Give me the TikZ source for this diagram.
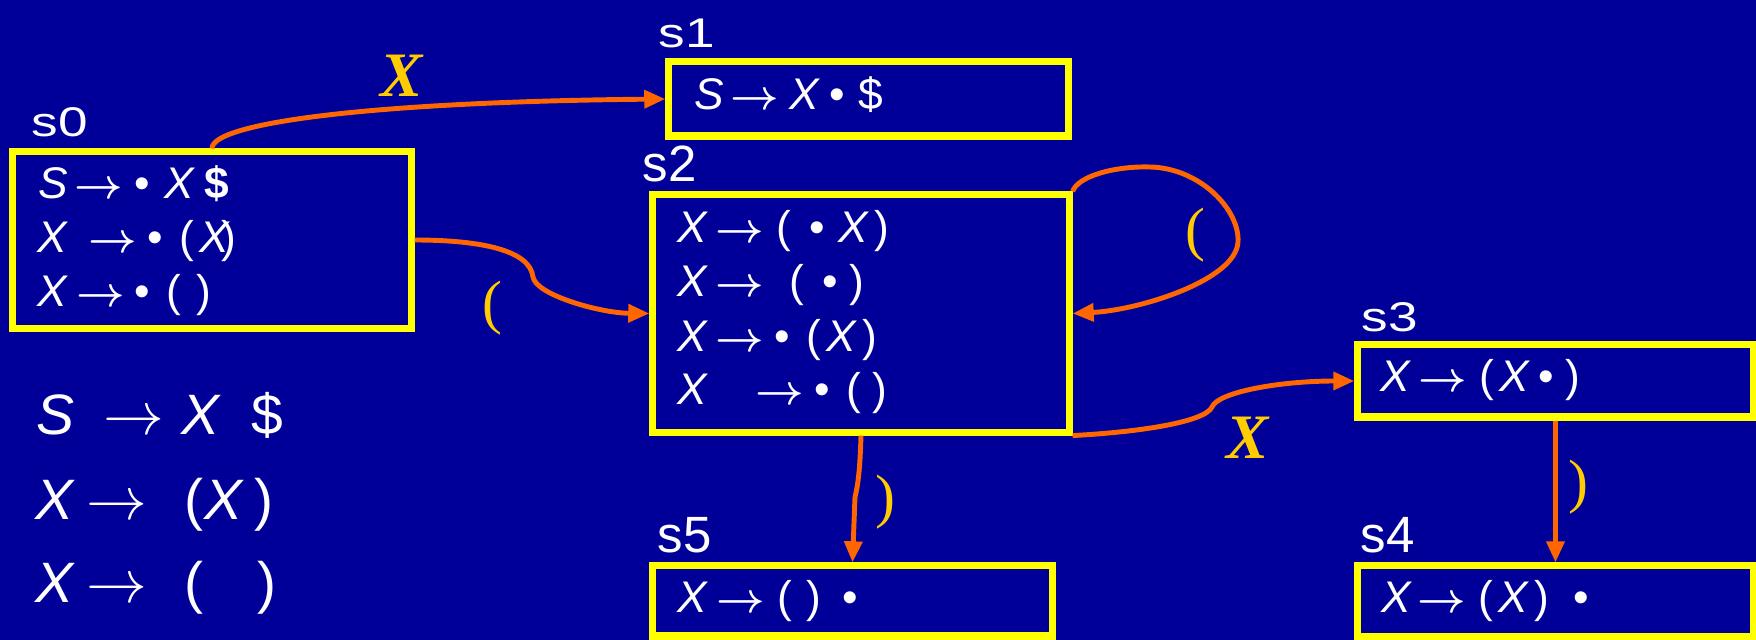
\documentclass[tikz,border=0pt]{standalone}
\usepackage{fontspec}
\setmainfont{Liberation Sans}
\newfontfamily\statefont{Liberation Sans}[FakeStretch=1.28]
\newfontfamily\labserif{Liberation Serif}
\usetikzlibrary{arrows.meta}
\definecolor{bgblue}{RGB}{0,0,153}
\definecolor{boxyellow}{RGB}{255,255,0}
\definecolor{arrowor}{RGB}{255,102,0}
\definecolor{labgold}{RGB}{255,204,0}
\newlength{\pxu}
\setlength{\pxu}{0.2837pt}
\newcommand{\slot}[2]{\makebox[#1\pxu][l]{#2}}
\newcommand{\Xv}{\textit{X}}
\newcommand{\Sv}{\textit{S}}
\newcommand{\yields}{{\boldmath$\rightarrow$}}
\begin{document}
\begin{tikzpicture}[x=0.01cm, y=-0.01cm,
	state/.style={draw=boxyellow, line width=2pt, inner sep=0pt},
	item/.style={text=white, font=\fontsize{12.6}{15}\selectfont, inner sep=0pt, anchor=base west},
	slabel/.style={text=white, font=\statefont\fontsize{11.8}{14}\selectfont, inner sep=0pt, anchor=base west},
	slabelbig/.style={text=white, font=\fontsize{14.5}{17}\selectfont, inner sep=0pt, anchor=base west},
	gram/.style={text=white, font=\fontsize{16.2}{19}\selectfont, inner sep=0pt, anchor=base west},
	trans/.style={draw=arrowor, line width=1.4pt, -{Triangle[length=6pt,width=5pt]}},
	edgelab/.style={text=labgold, inner sep=0pt, font=\labserif\fontsize{18}{20}\selectfont},
	parlab/.style={text=labgold, inner sep=0pt, font=\labserif\fontsize{17}{20}\selectfont}]
	\path[use as bounding box, fill=bgblue] (0,0) rectangle (1756,640);
	\node[state, minimum width=3.98cm, minimum height=1.76cm] (s0) at (212,240) {};
	\node[state, minimum width=3.99cm, minimum height=0.74cm] (s1) at (868.5,99) {};
	\node[state, minimum width=4.16cm, minimum height=2.37cm] (s2) at (861,313.5) {};
	\node[state, minimum width=3.95cm, minimum height=0.72cm] (s3) at (1555.5,381) {};
	\node[state, minimum width=3.95cm, minimum height=0.71cm] (s4) at (1555.5,601.5) {};
	\node[state, minimum width=3.99cm, minimum height=0.70cm] (s5) at (852.5,601) {};
	\node[slabel] (n0) at (31,137) {s0};
	\node[slabel] (n1) at (658,48) {s1};
	\node[slabelbig] (n2) at (642,182) {s2};
	\node[slabel] (n3) at (1361,332) {s3};
	\node[slabelbig] (n4) at (1360,553) {s4};
	\node[slabelbig] (n5) at (657,553) {s5};
	\node[item] (r0a) at (38,199) {\slot{36}{\Sv}\slot{60}{\yields}\slot{30}{•}\slot{40}{\Xv}\textbf{\$}};
	\node[item] (r0b) at (37,253) {\slot{51}{\Xv}\slot{59}{\yields}\slot{32}{•}\slot{20}{(}\slot{22}{\Xv})};
	\node[item] (r0c) at (37,307) {\slot{39}{\Xv}\slot{58}{\yields}\slot{32}{•}\slot{30}{(})};
	\node[item] (r1a) at (694,110) {\slot{36}{\Sv}\slot{59}{\yields}\slot{40}{\Xv}\slot{29}{•}\$};
	\node[item] (r2a) at (677,243) {\slot{38}{\Xv}\slot{61}{\yields}\slot{33}{(}\slot{29}{•}\slot{36}{\Xv})};
	\node[item] (r2b) at (677,297) {\slot{38}{\Xv}\slot{74}{\yields}\slot{33}{(}\slot{27}{•})};
	\node[item] (r2c) at (677,352) {\slot{38}{\Xv}\slot{59}{\yields}\slot{32}{•}\slot{20}{(}\slot{36}{\Xv})};
	\node[item] (r2d) at (677,405) {\slot{78}{\Xv}\slot{59}{\yields}\slot{32}{•}\slot{26}{(})};
	\node[item] (r3a) at (1380,392) {\slot{38}{\Xv}\slot{61}{\yields}\slot{20}{(}\slot{39}{\Xv}\slot{27}{•})};
	\node[item] (r4a) at (1381,613) {\slot{36}{\Xv}\slot{61}{\yields}\slot{20}{(}\slot{36}{\Xv}\slot{39}{)}•};
	\node[item] (r5a) at (677,613) {\slot{39}{\Xv}\slot{61}{\yields}\slot{29}{(}\slot{36}{)}•};
	\node[gram] (g1) at (36,435) {\slot{67}{\Sv}\slot{78}{$\rightarrow$}\slot{70}{\Xv}\$};
	\node[gram] (g2) at (35,520) {\slot{51}{\Xv}\slot{98}{$\rightarrow$}\slot{20}{(}\slot{50}{\Xv})};
	\node[gram] (g3) at (35,603) {\slot{51}{\Xv}\slot{98}{$\rightarrow$}\slot{73}{(})};
	\draw[trans] (s0.north) .. controls +(0,-25) and +(-300,3) .. (s1.west);
	\draw[trans] (s0.east) .. controls (480,240) and (530,250) .. (533,277) .. controls (536,295) and (600,313) .. (s2.west);
	\draw[trans] (s2.north east) .. controls (1078,176) and (1115,166) .. (1150,167) .. controls (1200,168) and (1240,210) .. (1238,242) .. controls (1236,280) and (1140,310) .. (s2.east);
	\draw[trans] (s2.south east) .. controls (1140,432) and (1205,422) .. (1212,407) .. controls (1218,392) and (1280,381) .. (s3.west);
	\draw[trans] (s2.south) .. controls (860,470) and (858,485) .. (855,497) -- (s5.north);
	\draw[trans] (s3.south) -- (s4.north);
	\node[edgelab] (x01) at (402,76) {\textbf{\textit{X}}};
	\node[parlab] (p02) at (492,308) {(};
	\node[parlab] (p22) at (1195,235) {(};
	\node[edgelab] (x23) at (1248,438) {\textbf{\textit{X}}};
	\node[parlab] (p25) at (885,502) {)};
	\node[parlab] (p34) at (1578,487) {)};
\end{tikzpicture}
\end{document}
